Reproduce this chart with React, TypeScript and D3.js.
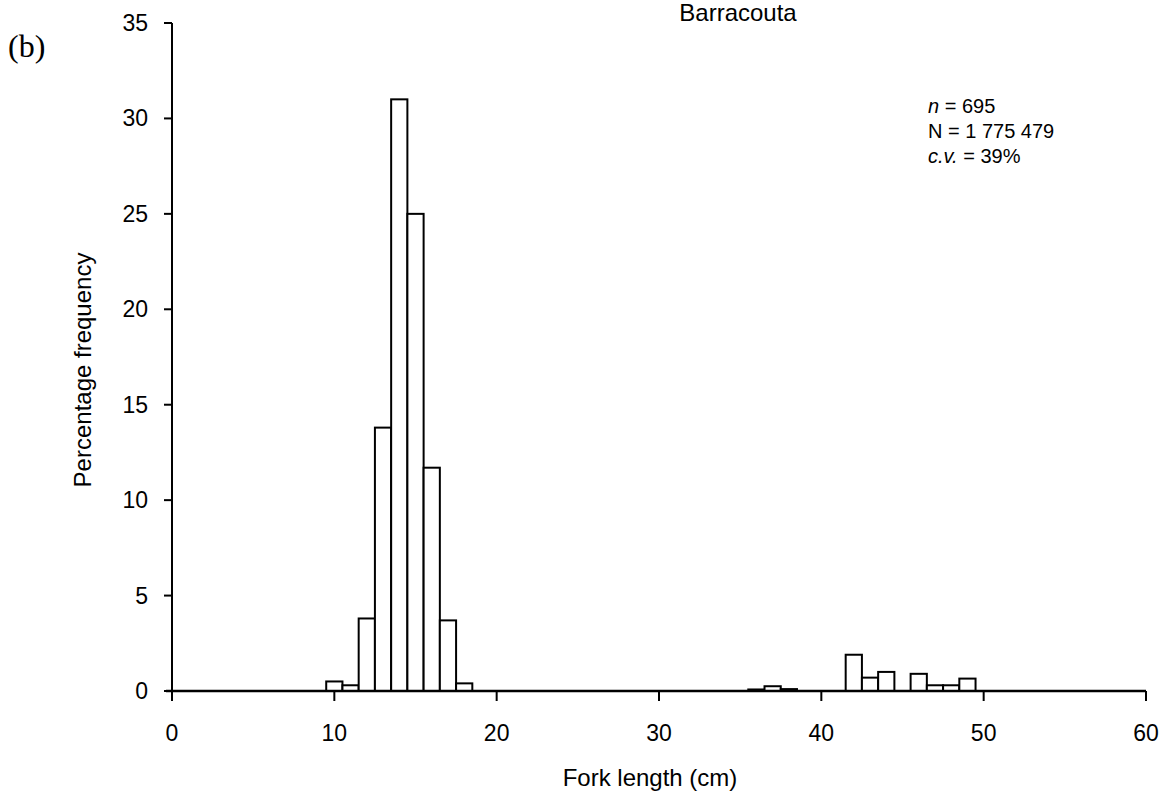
import React from "react";
import * as d3 from "d3";

const lengths = [10, 11, 12, 13, 14, 15, 16, 17, 18, 36, 37, 38, 42, 43, 44, 46, 47, 48, 49];
const percents = [0.5, 0.3, 3.8, 13.8, 31, 25, 11.7, 3.7, 0.4, 0.08, 0.25, 0.1, 1.9, 0.7, 1.0, 0.9, 0.3, 0.3, 0.65];
const xTicks = [0, 10, 20, 30, 40, 50, 60];
const yTicks = [0, 5, 10, 15, 20, 25, 30, 35];
const title = "Barracouta";
const panel = "(b)";

const W = 1168;
const H = 802;
const left = 172;
const right = 1146;
const top = 23;
const bottom = 691;

export default function App() {
  const x = d3.scaleLinear().domain([0, 60]).range([left, right]);
  const y = d3.scaleLinear().domain([0, 35]).range([bottom, top]);
  const font = "Liberation Sans, Arial, sans-serif";
  return (
    <svg width={W} height={H} style={{ position: "absolute", left: 0, top: 0, background: "#fff" }}>
      <rect x={0} y={0} width={W} height={H} fill="#fff" />
      {lengths.map((l, i) => (
        <rect
          key={l}
          x={x(l - 0.5)}
          y={y(percents[i])}
          width={x(l + 0.5) - x(l - 0.5)}
          height={y(0) - y(percents[i])}
          fill="#fff"
          stroke="#000"
          strokeWidth={2}
        />
      ))}
      {/* y axis */}
      <line x1={left} x2={left} y1={top} y2={bottom} stroke="#000" strokeWidth={2} />
      {yTicks.map((t) => (
        <g key={t}>
          <line x1={left - 8} x2={left} y1={y(t)} y2={y(t)} stroke="#000" strokeWidth={2} />
          <text x={148} y={y(t)} dy="0.35em" textAnchor="end" fontFamily={font} fontSize={23}>
            {t}
          </text>
        </g>
      ))}
      {/* x axis */}
      <line x1={left - 6} x2={right} y1={bottom} y2={bottom} stroke="#000" strokeWidth={2.5} />
      {xTicks.map((t) => (
        <g key={t}>
          <line x1={x(t)} x2={x(t)} y1={bottom} y2={bottom + 10} stroke="#000" strokeWidth={2} />
          <text x={x(t)} y={733} dy="0.35em" textAnchor="middle" fontFamily={font} fontSize={23}>
            {t}
          </text>
        </g>
      ))}
      <text x={650} y={778} dy="0.35em" textAnchor="middle" fontFamily={font} fontSize={24}>
        Fork length (cm)
      </text>
      <text
        transform={`translate(83,370) rotate(-90)`}
        dy="0.35em"
        textAnchor="middle"
        fontFamily={font}
        fontSize={24}
      >
        Percentage frequency
      </text>
      <text x={738} y={13} dy="0.35em" textAnchor="middle" fontFamily={font} fontSize={24}>
        {title}
      </text>
      <text x={8} y={46} dy="0.35em" fontFamily="Liberation Serif, Times New Roman, serif" fontSize={32}>
        {panel}
      </text>
      <g fontFamily={font} fontSize={20}>
        <text x={928} y={106} dy="0.35em">
          <tspan fontStyle="italic">n</tspan> = 695
        </text>
        <text x={928} y={131} dy="0.35em">
          N = 1 775 479
        </text>
        <text x={928} y={156} dy="0.35em">
          <tspan fontStyle="italic">c.v.</tspan> = 39%
        </text>
      </g>
    </svg>
  );
}
